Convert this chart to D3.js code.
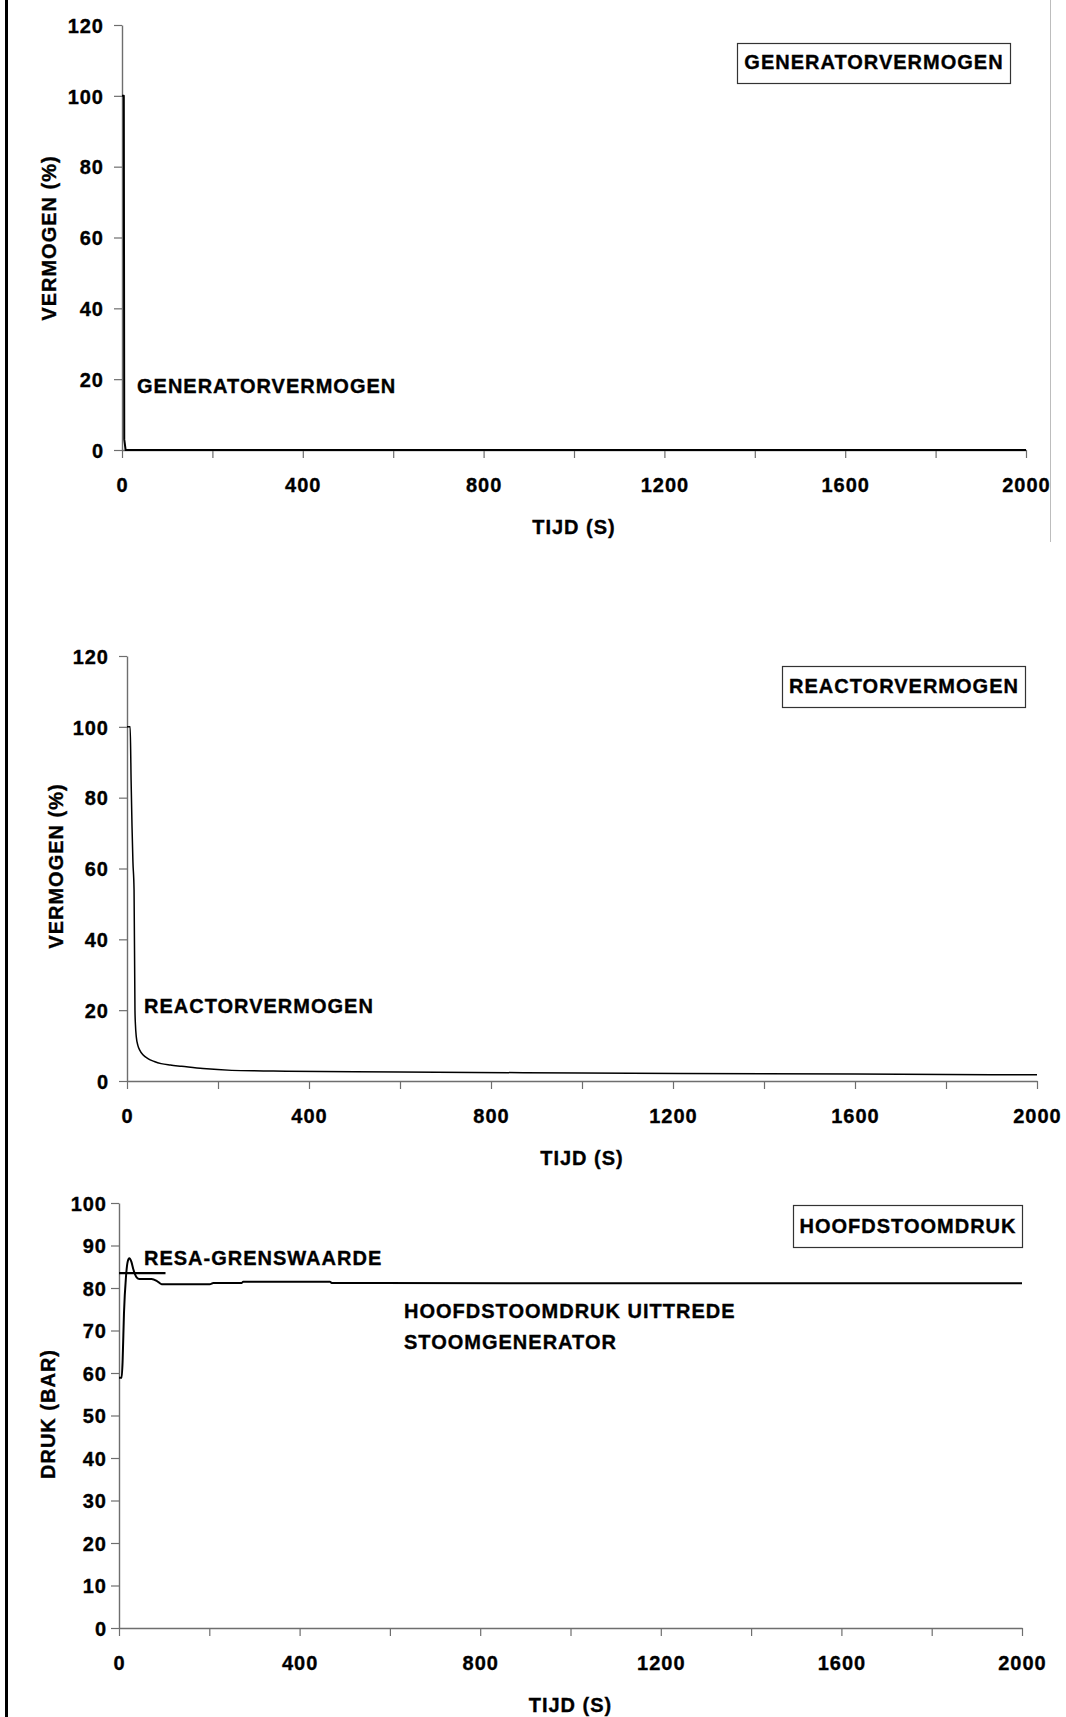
<!DOCTYPE html>
<html>
<head>
<meta charset="utf-8">
<script src="https://cdn.jsdelivr.net/npm/d3@7"></script>
<style>
  html, body { margin: 0; padding: 0; background: #fff; }
  svg { display: block; }
  text { font-family: "Liberation Sans", Arial, sans-serif; font-weight: bold; fill: #000; letter-spacing: 1px; stroke: #000; stroke-width: 0.35px; }
</style>
</head>
<body>
<svg id="chart" width="1066" height="1717"></svg>
<script>
// ---- Data ----------------------------------------------------------------
// Time axis ticks (s): marks every 200 s, labels every 400 s
const timeTickValues = [0, 200, 400, 600, 800, 1000, 1200, 1400, 1600, 1800, 2000];
const timeTickLabels = [0, 400, 800, 1200, 1600, 2000];

// Power axis ticks (%)
const powerTicks = [0, 20, 40, 60, 80, 100, 120];
// Pressure axis ticks (bar)
const pressureTicks = [0, 10, 20, 30, 40, 50, 60, 70, 80, 90, 100];

// Generator power (%) versus time (s)
const generatorTime  = [0, 4, 5, 8, 2000];
const generatorPower = [100, 100, 3, 0, 0];

// Reactor power (%) versus time (s)
const reactorTime  = [0, 7, 9, 11, 13, 15.5, 17.5, 18.5, 20.5, 24, 28, 35, 46, 60, 75, 95, 120, 167, 230, 300, 350, 600, 1000, 1400, 1800, 2000];
const reactorPower = [100, 100, 85, 72, 62, 54, 20, 16, 12.4, 10, 8.7, 7.4, 6.3, 5.5, 4.9, 4.5, 4.15, 3.5, 3.0, 2.85, 2.75, 2.55, 2.25, 2.05, 1.85, 1.75];

// Main steam pressure at steam generator outlet (bar) versus time (s)
const pressureTime = [0, 5.9, 8.1, 11, 15.5, 19.2, 22.9, 27.3, 31.7, 39, 45, 72, 83.4, 94.5, 201, 209, 272, 275, 467, 471, 886, 2000];
const pressureBar  = [58.9, 58.9, 63.1, 74.0, 82.7, 86.2, 87.0, 86.2, 84.4, 82.5, 82.1, 82.1, 81.7, 80.9, 80.9, 81.2, 81.2, 81.5, 81.5, 81.2, 81.1, 81.1];

// RESA trip limit (bar)
const resaTime = [0, 103];
const resaBar  = [83.5, 83.5];

// ---- Layout --------------------------------------------------------------
const panels = [
  {
    x0: 122, x1: 1026, yTop: 25, yBot: 450, yMax: 120, yTicks: powerTicks,
    yLabelGap: 18, yTitle: "VERMOGEN (%)", yTitleX: 56, yTitleY: 238,
    box: { x: 737, y: 43, w: 273, h: 40, base: 69, text: "GENERATORVERMOGEN" },
    series: [{ t: generatorTime, v: generatorPower, w: 2, curve: d3.curveLinear }],
    notes: [{ x: 137, y: 393, text: "GENERATORVERMOGEN" }]
  },
  {
    x0: 127, x1: 1037, yTop: 656, yBot: 1081, yMax: 120, yTicks: powerTicks,
    yLabelGap: 18, yTitle: "VERMOGEN (%)", yTitleX: 63, yTitleY: 866,
    box: { x: 782, y: 666, w: 243, h: 41, base: 693, text: "REACTORVERMOGEN" },
    series: [{ t: reactorTime, v: reactorPower, w: 1.5, curve: d3.curveMonotoneX }],
    notes: [{ x: 144, y: 1013, text: "REACTORVERMOGEN" }]
  },
  {
    x0: 119, x1: 1022, yTop: 1203, yBot: 1628, yMax: 100, yTicks: pressureTicks,
    yLabelGap: 12, yTitle: "DRUK (BAR)", yTitleX: 55, yTitleY: 1414,
    box: { x: 793, y: 1205, w: 229, h: 42, base: 1233, text: "HOOFDSTOOMDRUK" },
    series: [
      { t: resaTime, v: resaBar, w: 2.2, curve: d3.curveLinear },
      { t: pressureTime, v: pressureBar, w: 2, curve: d3.curveMonotoneX }
    ],
    notes: [
      { x: 144, y: 1265, text: "RESA-GRENSWAARDE" },
      { x: 404, y: 1318, text: "HOOFDSTOOMDRUK UITTREDE" },
      { x: 404, y: 1349, text: "STOOMGENERATOR" }
    ]
  }
];

const svg = d3.select("#chart");
const FONT = 20;
const AXIS_COLOR = "#6e6e6e";

// page frame lines
svg.append("rect").attr("x", 5).attr("y", 0).attr("width", 3).attr("height", 1717).attr("fill", "#000");
svg.append("line").attr("x1", 1050.5).attr("x2", 1050.5).attr("y1", 0).attr("y2", 542)
  .attr("stroke", "#bdbdbd").attr("stroke-width", 1);

panels.forEach(p => {
  const x = d3.scaleLinear().domain([0, 2000]).range([p.x0, p.x1]);
  const y = d3.scaleLinear().domain([0, p.yMax]).range([p.yBot, p.yTop]);
  const g = svg.append("g");

  // x axis
  const xAxis = d3.axisBottom(x)
    .tickValues(timeTickValues)
    .tickSize(8)
    .tickSizeOuter(0)
    .tickFormat(d => timeTickLabels.includes(d) ? String(d) : "");
  const gx = g.append("g").attr("transform", `translate(0,${p.yBot})`).call(xAxis);
  gx.select(".domain").attr("stroke", AXIS_COLOR).attr("stroke-width", 1.4);
  gx.selectAll(".tick line").attr("stroke", AXIS_COLOR).attr("stroke-width", 1.2);
  gx.selectAll(".tick text").attr("y", 42).attr("dy", null)
    .attr("font-size", FONT).attr("fill", "#000").attr("font-family", null);

  // y axis
  const yAxis = d3.axisLeft(y)
    .tickValues(p.yTicks)
    .tickSize(8)
    .tickSizeOuter(0)
    .tickFormat(d => String(d));
  const gy = g.append("g").attr("transform", `translate(${p.x0},0)`).call(yAxis);
  gy.select(".domain").attr("stroke", AXIS_COLOR).attr("stroke-width", 1.4);
  gy.selectAll(".tick line").attr("stroke", AXIS_COLOR).attr("stroke-width", 1.2);
  gy.selectAll(".tick text").attr("x", -p.yLabelGap).attr("dy", "0.36em")
    .attr("font-size", FONT).attr("fill", "#000").attr("font-family", null);

  // axis titles
  g.append("text")
    .attr("x", (p.x0 + p.x1) / 2).attr("y", p.yBot + 84)
    .attr("text-anchor", "middle").attr("font-size", FONT)
    .text("TIJD (S)");
  g.append("text")
    .attr("transform", `translate(${p.yTitleX},${p.yTitleY}) rotate(-90)`)
    .attr("text-anchor", "middle").attr("font-size", FONT)
    .text(p.yTitle);

  // series
  p.series.forEach(s => {
    const pts = s.t.map((t, i) => [t, s.v[i]]);
    g.append("path")
      .datum(pts)
      .attr("fill", "none")
      .attr("stroke", "#000")
      .attr("stroke-width", s.w)
      .attr("stroke-linejoin", "round")
      .attr("d", d3.line().x(d => x(d[0])).y(d => y(d[1])).curve(s.curve));
  });

  // in-plot annotations
  p.notes.forEach(n => {
    g.append("text").attr("x", n.x).attr("y", n.y).attr("font-size", FONT).text(n.text);
  });

  // boxed title
  g.append("rect")
    .attr("x", p.box.x + 0.5).attr("y", p.box.y + 0.5)
    .attr("width", p.box.w).attr("height", p.box.h)
    .attr("fill", "#fff").attr("stroke", "#333").attr("stroke-width", 1.2);
  g.append("text")
    .attr("x", p.box.x + p.box.w / 2 + 0.5).attr("y", p.box.base)
    .attr("text-anchor", "middle").attr("font-size", FONT)
    .text(p.box.text);
});
</script>
</body>
</html>
